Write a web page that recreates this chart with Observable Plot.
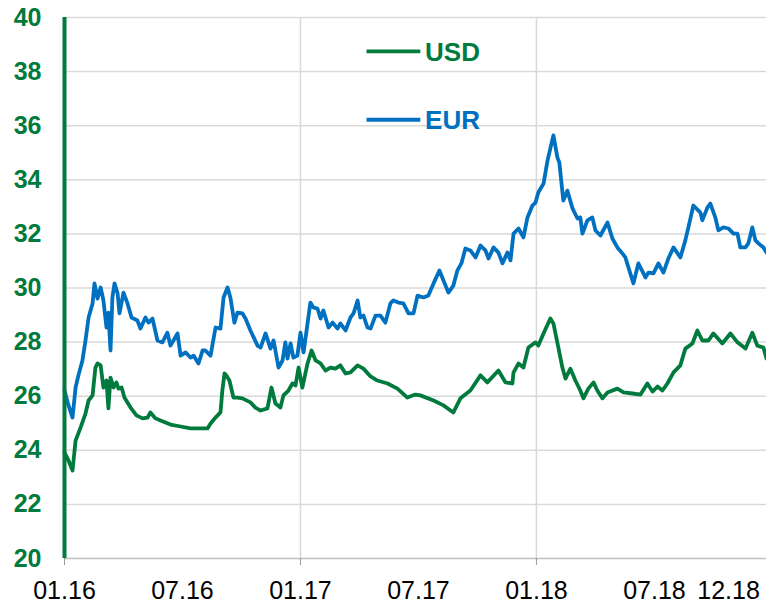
<!DOCTYPE html>
<html>
<head>
<meta charset="utf-8">
<script src="https://cdn.jsdelivr.net/npm/d3@7"></script>
<script src="https://cdn.jsdelivr.net/npm/@observablehq/plot@0.6"></script>
<style>
  html, body { margin: 0; padding: 0; background: #fff; }
  #chart svg { display: block; }
</style>
</head>
<body>
<div id="chart"></div>
<script>
// time in decimal years
const usdT = [2016.000,2016.017,2016.034,2016.047,2016.068,2016.089,2016.102,2016.119,2016.131,2016.140,2016.153,2016.165,2016.178,2016.186,2016.195,2016.208,2016.220,2016.229,2016.242,2016.254,2016.280,2016.305,2016.331,2016.352,2016.364,2016.386,2016.407,2016.428,2016.449,2016.492,2016.534,2016.576,2016.606,2016.619,2016.640,2016.661,2016.669,2016.678,2016.686,2016.699,2016.716,2016.733,2016.754,2016.788,2016.809,2016.831,2016.860,2016.877,2016.894,2016.915,2016.928,2016.949,2016.966,2016.979,2016.992,2017.008,2017.030,2017.047,2017.064,2017.085,2017.106,2017.127,2017.148,2017.169,2017.191,2017.212,2017.242,2017.267,2017.297,2017.326,2017.369,2017.411,2017.453,2017.487,2017.508,2017.564,2017.606,2017.636,2017.648,2017.678,2017.720,2017.763,2017.792,2017.839,2017.869,2017.898,2017.903,2017.924,2017.945,2017.966,2017.996,2018.008,2018.030,2018.059,2018.072,2018.093,2018.110,2018.123,2018.144,2018.165,2018.186,2018.199,2018.220,2018.242,2018.258,2018.280,2018.301,2018.343,2018.369,2018.407,2018.441,2018.470,2018.492,2018.513,2018.534,2018.555,2018.581,2018.610,2018.631,2018.661,2018.682,2018.703,2018.729,2018.750,2018.788,2018.822,2018.852,2018.886,2018.915,2018.936,2018.962,2018.975];
const usdV = [23.92,23.62,23.25,24.36,24.84,25.36,25.84,26.03,27.06,27.21,27.14,26.32,26.58,25.55,26.69,26.32,26.51,26.28,26.32,25.95,25.58,25.29,25.18,25.21,25.40,25.18,25.10,25.03,24.95,24.88,24.81,24.81,24.81,24.99,25.21,25.40,26.21,26.84,26.77,26.58,25.95,25.95,25.92,25.77,25.58,25.47,25.55,26.32,25.73,25.58,26.03,26.21,26.47,26.40,27.06,26.32,27.21,27.69,27.32,27.21,26.95,27.06,27.02,27.14,26.84,26.88,27.14,27.02,26.73,26.58,26.47,26.28,25.95,26.06,26.03,25.84,25.66,25.47,25.40,25.92,26.21,26.77,26.51,26.95,26.51,26.47,26.88,27.21,27.06,27.80,27.99,27.87,28.32,28.87,28.69,27.80,27.06,26.65,27.02,26.58,26.21,25.92,26.28,26.51,26.21,25.92,26.14,26.28,26.14,26.10,26.06,26.47,26.17,26.36,26.21,26.47,26.88,27.14,27.76,27.95,28.43,28.06,28.06,28.32,27.95,28.32,27.99,27.76,28.35,27.87,27.80,27.39];

const eurT = [2016.000,2016.017,2016.034,2016.047,2016.059,2016.076,2016.089,2016.102,2016.119,2016.127,2016.140,2016.153,2016.165,2016.178,2016.186,2016.195,2016.203,2016.212,2016.225,2016.233,2016.250,2016.267,2016.284,2016.309,2016.322,2016.343,2016.356,2016.373,2016.394,2016.415,2016.436,2016.449,2016.479,2016.492,2016.513,2016.534,2016.547,2016.568,2016.585,2016.597,2016.619,2016.640,2016.661,2016.674,2016.691,2016.703,2016.720,2016.733,2016.754,2016.767,2016.788,2016.818,2016.831,2016.852,2016.873,2016.886,2016.907,2016.924,2016.936,2016.945,2016.958,2016.970,2016.987,2017.000,2017.013,2017.030,2017.042,2017.055,2017.072,2017.085,2017.097,2017.119,2017.136,2017.157,2017.169,2017.191,2017.212,2017.225,2017.242,2017.254,2017.267,2017.284,2017.297,2017.318,2017.339,2017.360,2017.381,2017.394,2017.415,2017.436,2017.458,2017.479,2017.496,2017.521,2017.542,2017.564,2017.589,2017.606,2017.627,2017.648,2017.665,2017.682,2017.699,2017.720,2017.742,2017.763,2017.784,2017.797,2017.818,2017.839,2017.856,2017.877,2017.890,2017.903,2017.924,2017.945,2017.962,2017.983,2017.996,2018.008,2018.030,2018.047,2018.059,2018.072,2018.089,2018.097,2018.114,2018.131,2018.153,2018.174,2018.186,2018.195,2018.216,2018.237,2018.250,2018.271,2018.301,2018.322,2018.343,2018.364,2018.377,2018.390,2018.411,2018.432,2018.462,2018.475,2018.496,2018.517,2018.538,2018.559,2018.581,2018.610,2018.631,2018.644,2018.665,2018.695,2018.703,2018.725,2018.737,2018.758,2018.771,2018.792,2018.814,2018.835,2018.852,2018.864,2018.886,2018.898,2018.915,2018.928,2018.941,2018.962,2018.975];
const eurV = [26.21,25.66,25.21,26.32,26.77,27.32,28.06,28.91,29.43,30.17,29.61,30.02,29.54,28.54,29.09,27.69,29.65,30.17,29.80,29.06,29.83,29.43,28.91,28.80,28.50,28.91,28.72,28.87,28.06,27.99,28.35,27.87,28.32,27.50,27.62,27.43,27.50,27.21,27.69,27.69,27.50,28.54,28.50,29.65,30.02,29.65,28.72,29.09,29.06,28.87,28.43,27.87,27.80,28.32,27.76,28.06,27.06,27.32,27.99,27.39,27.95,27.43,27.50,28.35,27.62,28.69,29.46,29.28,29.24,28.87,29.17,28.54,28.72,28.50,28.69,28.43,28.91,29.06,29.54,28.91,28.98,28.54,28.50,28.98,28.98,28.72,29.43,29.54,29.46,29.43,29.06,29.06,29.72,29.65,29.72,30.17,30.65,30.28,29.83,30.09,30.65,30.91,31.46,31.39,31.13,31.57,31.39,31.09,31.50,31.31,30.91,31.31,31.02,32.01,32.20,31.87,32.61,33.05,33.16,33.53,33.86,34.71,35.16,35.64,34.82,34.64,33.23,33.60,32.94,32.57,32.61,32.01,32.50,32.61,32.13,31.94,32.42,31.83,31.50,31.28,31.13,30.76,30.17,30.91,30.39,30.57,30.54,30.91,30.57,31.09,31.50,31.13,31.76,32.24,33.05,32.79,32.50,32.98,33.12,32.61,32.13,32.24,32.20,32.01,32.01,31.50,31.50,31.65,32.24,31.76,31.65,31.50,31.31];

const yTicks = [20, 22, 24, 26, 28, 30, 32, 34, 36, 38, 40];
const yearTicks = [2016, 2017, 2018];
const xLabelPos = [2016, 2016.5, 2017, 2017.5, 2018, 2018.5, 2018.814];
const xLabels = ["01.16", "07.16", "01.17", "07.17", "01.18", "07.18", "12.18"];

const seriesNames = ["USD", "EUR"];
const seriesColors = ["#007A3D", "#0070C0"];
const legendY = [38.75, 36.22];

const usd = usdT.map((t, i) => ({t, v: usdV[i]}));
const eur = eurT.map((t, i) => ({t, v: eurV[i]}));
const labelMap = new Map(xLabelPos.map((p, i) => [p, xLabels[i]]));

const legendMarks = seriesNames.flatMap((name, i) => [
  Plot.link([name], {x1: 2017.28, x2: 2017.508, y1: legendY[i], y2: legendY[i], stroke: seriesColors[i], strokeWidth: 3.8}),
  Plot.text([name], {x: 2017.528, y: legendY[i], text: d => d, textAnchor: "start", fill: seriesColors[i], fontSize: 26, fontWeight: "bold", dy: 1})
]);

const chart = Plot.plot({
  width: 766,
  height: 604,
  marginLeft: 64,
  marginRight: 0,
  marginTop: 17,
  marginBottom: 46,
  x: {type: "linear", domain: [2016, 2018.975], label: null},
  y: {domain: [20, 40], label: null},
  style: {fontFamily: "'Liberation Sans', Arial, sans-serif", background: "#fff", overflow: "visible"},
  marks: [
    Plot.ruleY(yTicks.slice(1), {stroke: "#d9d9d9", strokeWidth: 1.5, strokeOpacity: 1}),
    Plot.ruleX(yearTicks.slice(1), {stroke: "#d9d9d9", strokeWidth: 1.5, strokeOpacity: 1}),
    Plot.ruleY([20], {stroke: "#bfbfbf", strokeWidth: 1.5, strokeOpacity: 1}),
    Plot.axisX({ticks: yearTicks, tickSize: 7, tickFormat: () => "", label: null, stroke: "#999", strokeOpacity: 1}),
    Plot.axisX({ticks: xLabelPos, tickSize: 0, tickPadding: 23, tickFormat: d => labelMap.get(d), label: null, fontSize: 25, fill: "#000"}),
    Plot.axisY({ticks: yTicks, tickSize: 0, tickPadding: 23, label: null, fontSize: 25, fontWeight: "bold", fill: "#007A3D"}),
    Plot.line(eur, {x: "t", y: "v", stroke: "#0070C0", strokeWidth: 3.8, strokeLinejoin: "round"}),
    Plot.line(usd, {x: "t", y: "v", stroke: "#007A3D", strokeWidth: 3.8, strokeLinejoin: "round"}),
    Plot.ruleX([2016], {stroke: "#007A3D", strokeWidth: 4, strokeOpacity: 1}),
    ...legendMarks
  ]
});
document.getElementById("chart").append(chart);
</script>
</body>
</html>
